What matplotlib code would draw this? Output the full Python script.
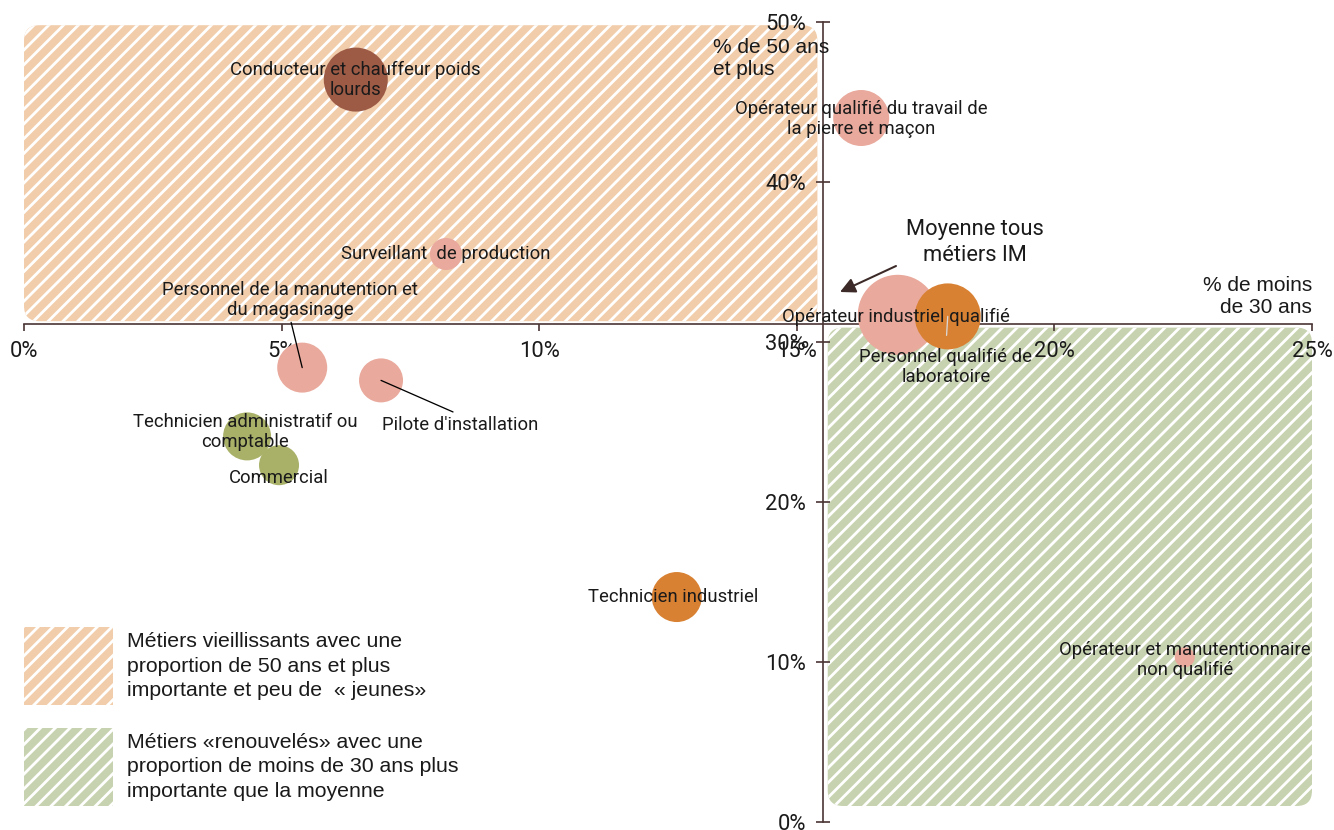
import matplotlib
matplotlib.use("Agg")
import matplotlib.pyplot as plt
from matplotlib.patches import FancyBboxPatch, Rectangle
from matplotlib.ticker import FuncFormatter, FixedLocator

# ---------------- data ----------------
metiers = [
    "Conducteur et chauffeur poids\nlourds",
    "Opérateur qualifié du travail de\nla pierre et maçon",
    "Surveillant  de production",
    "Personnel de la manutention et\ndu magasinage",
    "Pilote d'installation",
    "Technicien administratif ou\ncomptable",
    "Commercial",
    "Technicien industriel",
    "Opérateur industriel qualifié",
    "Personnel qualifié de\nlaboratoire",
    "Opérateur et manutentionnaire\nnon qualifié",
]
pct_moins_30 = [6.44, 16.25, 8.19, 5.40, 6.93, 4.33, 4.95, 12.67, 16.96, 17.93, 22.53]
pct_50_plus = [46.4, 44.0, 35.5, 28.4, 27.6, 24.1, 22.3, 14.06, 31.7, 31.6, 10.3]
taille = [1024, 784, 256, 625, 484, 576, 400, 625, 1600, 1089, 100]
groupe = ["brun", "rose", "rose", "rose", "rose", "olive", "olive",
          "orange", "rose", "orange", "rose"]
moyenne_moins_30 = 15.5
moyenne_50_plus = 31.1
x_ticks = [0, 5, 10, 15, 20, 25]
y_ticks = [0, 10, 20, 30, 40, 50]

legende = [
    "Métiers vieillissants avec une\nproportion de 50 ans et plus\nimportante et peu de  « jeunes»",
    "Métiers «renouvelés» avec une\nproportion de moins de 30 ans plus\nimportante que la moyenne",
]

# ---------------- style ----------------
couleurs = {"brun": "#9d5b46", "rose": "#e9a99c", "olive": "#a9b169", "orange": "#d98133"}
fond_orange = "#f2cdab"
fond_vert = "#c7d3b0"
axe_col = "#4a3535"
txt_col = "#1a1a1a"

# label offsets in pixels (layout only)
offsets = [(0, 0), (0, -1), (0, 0), (-12, 68), (79, -45), (-2, 4), (0, -13),
           (-4, 0), (-2, -2), (-2, -51), (0, -3)]
leaders = {3: dict(relpos=(0.5, 0.0), color="black", shrinkA=0),
           4: dict(relpos=(0.52, 1.0), color="black", shrinkA=1),
           9: dict(relpos=(0.5, 1.0), color="#d8d8d8", shrinkA=5)}

DPI = 133.4
W, H = 1334, 830
plt.rcParams["hatch.linewidth"] = 1.5
plt.rcParams["hatch.color"] = "white"

fig = plt.figure(figsize=(W / DPI, H / DPI), dpi=DPI)
ax = fig.add_axes([24 / W, 8 / H, 1288 / W, 800 / H])
ax.set_xlim(0, 25)
ax.set_ylim(0, 50)
ax.patch.set_alpha(0)

# hatched quadrants
asp = 3.2
q1 = FancyBboxPatch((0, moyenne_50_plus + 0.2), moyenne_moins_30 - 0.1,
                    49.8 - (moyenne_50_plus + 0.2),
                    boxstyle="round,pad=0,rounding_size=0.3", mutation_aspect=asp,
                    facecolor=fond_orange, edgecolor="white", hatch="///",
                    linewidth=0, zorder=0.5)
q2 = FancyBboxPatch((moyenne_moins_30 + 0.1, 1.0), 25 - (moyenne_moins_30 + 0.1),
                    moyenne_50_plus - 0.2 - 1.0,
                    boxstyle="round,pad=0,rounding_size=0.3", mutation_aspect=asp,
                    facecolor=fond_vert, edgecolor="white", hatch="///",
                    linewidth=0, zorder=0.5)
ax.add_patch(q1)
ax.add_patch(q2)

# axes crossing at the mean
for s in ("top", "right"):
    ax.spines[s].set_visible(False)
ax.spines["left"].set_position(("data", moyenne_moins_30))
ax.spines["bottom"].set_position(("data", moyenne_50_plus))
for s in ("left", "bottom"):
    ax.spines[s].set_color(axe_col)
    ax.spines[s].set_linewidth(0.9)
    ax.spines[s].set_zorder(2)
ax.xaxis.set_major_locator(FixedLocator(x_ticks))
ax.yaxis.set_major_locator(FixedLocator(y_ticks))
fmt = FuncFormatter(lambda v, p: f"{int(round(v))}%")
ax.xaxis.set_major_formatter(fmt)
ax.yaxis.set_major_formatter(fmt)
ax.tick_params(axis="x", direction="out", length=4, width=0.9, color=axe_col,
               pad=5, labelsize=11.8, labelcolor=txt_col)
ax.tick_params(axis="y", direction="inout", length=8, width=0.9, color=axe_col,
               pad=5, labelsize=11.8, labelcolor=txt_col)
for lab in ax.get_xticklabels() + ax.get_yticklabels():
    lab.set_fontfamily("Roboto")

# bubbles
k = (2 * 72 / DPI) ** 2
ax.scatter(pct_moins_30, pct_50_plus, s=[t * k for t in taille],
           c=[couleurs[g] for g in groupe], linewidths=0, zorder=3)

# labels
for i, name in enumerate(metiers):
    props = None
    if i in leaders:
        d = leaders[i]
        props = dict(arrowstyle="-", color=d["color"], lw=0.7, shrinkA=d["shrinkA"],
                     shrinkB=0, relpos=d["relpos"])
    ax.annotate(name, xy=(pct_moins_30[i], pct_50_plus[i]), xytext=offsets[i],
                textcoords="offset pixels", ha="center", va="center",
                fontsize=10, family="Roboto", color=txt_col, linespacing=1.15,
                arrowprops=props, zorder=5)

# axis titles
fig.text(713 / W, 1 - 58.5 / H, "% de 50 ans\net plus", ha="left", va="center",
         fontsize=11.3, family="Liberation Sans", color=txt_col, linespacing=1.15)
fig.text(1312 / W, 1 - 296.5 / H, "% de moins\nde 30 ans", ha="right", va="center",
         multialignment="right", fontsize=11.3, family="Liberation Sans",
         color=txt_col, linespacing=1.15)

# mean annotation
fig.text(975 / W, 1 - 242.5 / H, "Moyenne tous\nmétiers IM", ha="center", va="center",
         fontsize=11.8, family="Roboto", color=txt_col, linespacing=1.3)
ax.annotate("", xy=(840, H - 292), xycoords="figure pixels",
            xytext=(896, H - 266), textcoords="figure pixels",
            arrowprops=dict(arrowstyle="-|>", color="#3b2a27", lw=1.1,
                            mutation_scale=17, shrinkA=0, shrinkB=0))

# legend
for (y0, y1, col, txt) in [(627, 705, fond_orange, legende[0]),
                           (728, 806, fond_vert, legende[1])]:
    r = Rectangle((24 / W, 1 - y1 / H), 89 / W, (y1 - y0) / H,
                  transform=fig.transFigure, facecolor=col, edgecolor="white",
                  hatch="///", linewidth=0)
    fig.add_artist(r)
    fig.text(127 / W, 1 - (y0 + y1) / 2 / H, txt, ha="left", va="center",
             fontsize=11.5, family="Liberation Sans", color=txt_col,
             linespacing=1.38)

fig.savefig("out.png", dpi=DPI)
